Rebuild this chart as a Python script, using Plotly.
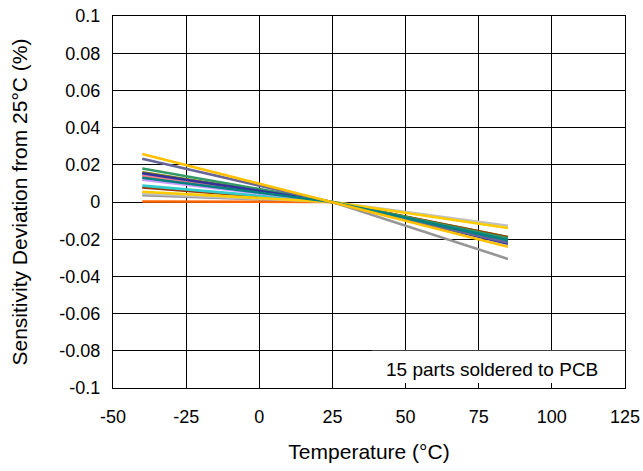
import plotly.graph_objects as go

temps = [-40, 25, 85]

series_names = [f"Part {i}" for i in range(1, 16)]
colors = ["#969696", "#808000", "#993300", "#9999FF", "#33CCCC", "#FF6600",
          "#C0C0C0", "#FF8080", "#339966", "#333399", "#CC99FF", "#666699",
          "#FFCC00", "#008080", "#FFC000"]
dev_m40 = [0.0037, 0.0160, 0.0078, 0.0150, 0.0088, 0.0003,
           0.0045, 0.0140, 0.0180, 0.0155, 0.0120, 0.0232,
           0.0055, 0.0130, 0.0258]
dev_25 = [0.0] * 15
dev_85 = [-0.0306, -0.0188, -0.0190, -0.0200, -0.0200, -0.0205,
          -0.0128, -0.0210, -0.0195, -0.0225, -0.0215, -0.0218,
          -0.0140, -0.0205, -0.0240]

x_tickvals = [-50, -25, 0, 25, 50, 75, 100, 125]
x_ticktext = ["-50", "-25", "0", "25", "50", "75", "100", "125"]
y_tickvals = [0.1, 0.08, 0.06, 0.04, 0.02, 0, -0.02, -0.04, -0.06, -0.08, -0.1]
y_ticktext = ["0.1", "0.08", "0.06", "0.04", "0.02", "0", "-0.02", "-0.04", "-0.06", "-0.08", "-0.1"]

fig = go.Figure()
for name, c, a, b, d in zip(series_names, colors, dev_m40, dev_25, dev_85):
    fig.add_trace(go.Scatter(x=temps, y=[a, b, d], mode="lines", name=name,
                             line=dict(color=c, width=2.6), showlegend=False))

font_family = "Liberation Sans, Arial, Helvetica, sans-serif"

fig.add_shape(type="rect", xref="x", yref="y", x0=38.5, x1=125, y0=-0.1, y1=-0.08,
              fillcolor="white", line=dict(width=0), layer="between")
fig.add_annotation(x=79.5, y=-0.09, xref="x", yref="y", text="15 parts soldered to PCB",
                   showarrow=False, font=dict(size=19, color="black", family=font_family))

fig.update_layout(
    width=643, height=471,
    margin=dict(l=113, r=18, t=16, b=83, autoexpand=False),
    paper_bgcolor="white", plot_bgcolor="white",
    font=dict(family=font_family, color="black"),
    xaxis=dict(range=[-50, 125], tickvals=x_tickvals, ticktext=x_ticktext, showgrid=True,
               gridcolor="black", gridwidth=1, showline=True, linecolor="black", linewidth=1.2,
               mirror=True, ticks="inside", ticklen=5, tickcolor="black", zeroline=False,
               automargin=False, ticklabeloverflow="allow", tickfont=dict(size=18),
               ticklabelstandoff=12,
               title=dict(text="Temperature (°C)", font=dict(size=21), standoff=18)),
    yaxis=dict(range=[-0.1, 0.1], tickvals=y_tickvals, ticktext=y_ticktext, showgrid=True,
               gridcolor="black", gridwidth=1, showline=True, linecolor="black", linewidth=1.2,
               mirror=True, ticks="inside", ticklen=5, tickcolor="black", zeroline=False,
               automargin=False, ticklabeloverflow="allow", tickfont=dict(size=18),
               ticklabelstandoff=8,
               title=dict(text="Sensitivity Deviation from 25°C (%)", font=dict(size=21), standoff=25)),
)

fig.write_html("out.html", config={"displayModeBar": False},
               post_script="document.body.style.margin='0';document.body.style.overflow='hidden';")
